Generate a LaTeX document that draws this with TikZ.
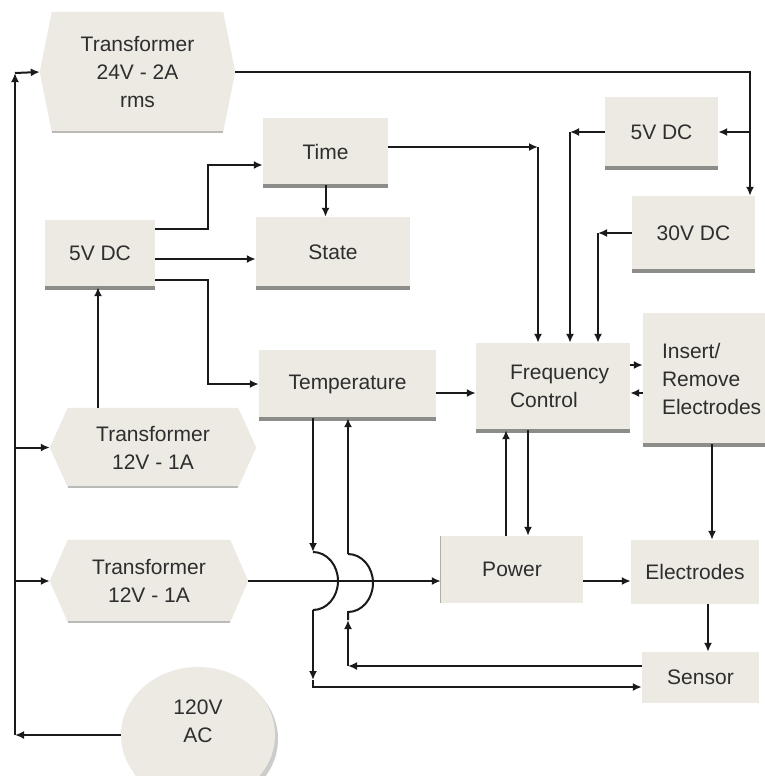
\documentclass[tikz,border=0pt]{standalone}
\usepackage{fontspec}
\setmainfont{Liberation Sans}
\usetikzlibrary{arrows.meta,shapes.geometric,backgrounds}
\definecolor{boxfill}{HTML}{ECEAE2}
\definecolor{barcol}{HTML}{8C8C88}
\definecolor{txtcol}{HTML}{2E2E2E}
\definecolor{linecol}{HTML}{1A1A1A}
\begin{document}
\begin{tikzpicture}[x=1pt,y=-1pt,
  lbl/.style={inner sep=0pt, text=txtcol, font=\fontsize{21}{28}\selectfont, align=center},
  box/.style={lbl, fill=boxfill},
  line/.style={draw=linecol, line width=2pt},
  arr/.style={line, -{Latex[length=9pt,width=8pt]}},
  bar/.style={draw=barcol, line width=4pt},
  hexbar/.style={draw=barcol!60, line width=2pt},
]
\clip (0,0) rectangle (765,776);

% ---------- nodes ----------
\node[lbl, minimum width=195pt, minimum height=120pt] (tr24) at (137.5,72) {Transformer\\24V - 2A\\rms};
\node[lbl, minimum width=206pt, minimum height=79pt] (tr12a) at (153,447.5) {Transformer\\12V - 1A};
\node[lbl, minimum width=198pt, minimum height=82pt] (tr12b) at (149,581) {Transformer\\12V - 1A};

\fill[gray!40] (201,739) ellipse[x radius=77, y radius=68];
\node[ellipse, box, minimum width=154pt, minimum height=136pt] (ac) at (198,735) {120V\\AC\\\mbox{}};

\node[box, minimum width=125pt, minimum height=67pt] (time) at (325.5,151.5) {Time};
\node[box, minimum width=154pt, minimum height=70pt] (state) at (333,252) {State};
\node[box, minimum width=110pt, minimum height=67pt] (dcL) at (100,253.5) {5V DC};
\node[box, minimum width=177pt, minimum height=68pt] (temp) at (347.5,384) {Temperature};
\node[box, minimum width=154pt, minimum height=87pt, text width=86pt, align=left] (freq) at (553,386.5) {Frequency\\Control};
\node[box, minimum width=122pt, minimum height=131pt, text width=84pt, align=left] (insert) at (704,378.5) {Insert/\\Remove\\Electrodes};
\node[box, minimum width=113pt, minimum height=70pt] (dcR) at (661.5,132) {5V DC};
\node[box, minimum width=123pt, minimum height=74pt] (dc30) at (693.5,233) {30V DC};
\node[box, minimum width=142pt, minimum height=67pt] (power) at (512,569.5) {Power};
\node[box, minimum width=128pt, minimum height=64pt] (electrodes) at (695,572) {Electrodes};
\node[box, minimum width=117pt, minimum height=51pt] (sensor) at (700.5,677.5) {Sensor};

% white page and hexagon backgrounds
\begin{pgfonlayer}{background}
\fill[white] (0,0) rectangle (765,776);
\foreach \n/\c in {tr24/12, tr12a/18, tr12b/18}{
  \fill[boxfill] (\n.west) -- ([xshift=\c pt]\n.north west) -- ([xshift=-\c pt]\n.north east)
     -- (\n.east) -- ([xshift=-\c pt]\n.south east) -- ([xshift=\c pt]\n.south west) -- cycle;
  \draw[hexbar] ([xshift=\c pt]\n.south west) -- ([xshift=-\c pt]\n.south east);
}
\end{pgfonlayer}

% bottom bars
\foreach \n in {time,state,dcL,temp,freq,insert,dcR,dc30}{
  \draw[bar] ([yshift=-1pt]\n.south west) -- ([yshift=-1pt]\n.south east);
}
\draw[draw=barcol!70, line width=1pt] (power.north west) -- (power.south west);

% ---------- coordinates ----------
\coordinate (busT) at (15,73);
\coordinate (busB) at (15,0 |- ac.west);
\coordinate (jA) at (15,0 |- tr12a.west);
\coordinate (jB) at (15,0 |- tr12b.west);
\coordinate (c24) at (750,0 |- tr24.east);
\coordinate (k1) at (570,0 |- dcR.west);
\coordinate (k2) at (598,0 |- dc30.west);
\coordinate (k3) at (538,147);
\coordinate (ta) at (313,552);
\coordinate (tb) at (313,610);
\coordinate (tc) at (313,680);
\coordinate (td) at (313,687);
\coordinate (sa) at (348,666);
\coordinate (sb) at (348,612);
\coordinate (sc) at (348,554);

% ---------- connectors ----------
% left supply bus
\draw[arr] (ac.west) -- (busB);
\draw[arr] (busB) -- (busT);
\draw[arr] (busT) -- (tr24.west);
\draw[arr] (jA) -- (tr12a.west);
\draw[arr] (jB) -- (tr12b.west);

% 24V transformer to DC supplies
\draw[arr] (tr24.east) -- (c24) -- (c24 |- dc30.north);
\draw[arr] (c24 |- dcR.east) -- (dcR.east);

% supplies to frequency control
\draw[arr] (dcR.west) -- (k1);
\draw[arr] (k1) -- (k1 |- freq.north);
\draw[arr] (dc30.west) -- (k2);
\draw[arr] (k2) -- (k2 |- freq.north);
\draw[arr] (time.east |- k3) -- (k3);
\draw[arr] (k3) -- (k3 |- freq.north);

% left 5V DC
\draw[arr] (dcL.east |- 0,229) -- (208,229) |- (time.west |- 0,165);
\draw[arr] (dcL.east |- 0,259) -- (state.west |- 0,259);
\draw[arr] (dcL.east |- 0,280) -- (208,280) |- (temp.west);
\draw[arr] (time.south) -- (time.south |- state.north);
\draw[arr] (98,0 |- tr12a.north) -- (98,0 |- dcL.south);

% temperature / frequency / insert
\draw[arr] (temp.east |- 0,393) -- (freq.west |- 0,393);
\draw[arr] (freq.east |- 0,365) -- (insert.west |- 0,365);
\draw[arr] (insert.west |- 0,393) -- (freq.east |- 0,393);
\draw[arr] (506,0 |- power.north) -- (506,0 |- freq.south);
\draw[arr] (528,0 |- freq.south) -- (528,0 |- power.north);
\draw[arr] (712,0 |- insert.south) -- (712,0 |- electrodes.north);

% power chain
\draw[arr] (tr12b.east |- 0,581) -- (power.west |- 0,581);
\draw[arr] (power.east |- 0,581) -- (electrodes.west |- 0,581);
\draw[arr] (708,0 |- electrodes.south) -- (708,0 |- sensor.north);

% temperature -> sensor (with jump)
\draw[arr] (ta |- temp.south) -- (ta);
\draw[line] (ta) arc[start angle=-90, end angle=90, x radius=25, y radius=29];
\draw[arr] (tb) -- (tc);
\draw[arr] (tc) -- (td) -- (sensor.west |- td);

% sensor -> temperature (with jump)
\draw[arr] (sensor.west |- sa) -- (sa);
\draw[arr] (sa) -- ([yshift=-8pt]sb);
\draw[line] ([yshift=-8pt]sb) -- (sb) arc[start angle=90, end angle=-90, x radius=25, y radius=29];
\draw[arr] (sc) -- (sc |- temp.south);
\end{tikzpicture}
\end{document}
